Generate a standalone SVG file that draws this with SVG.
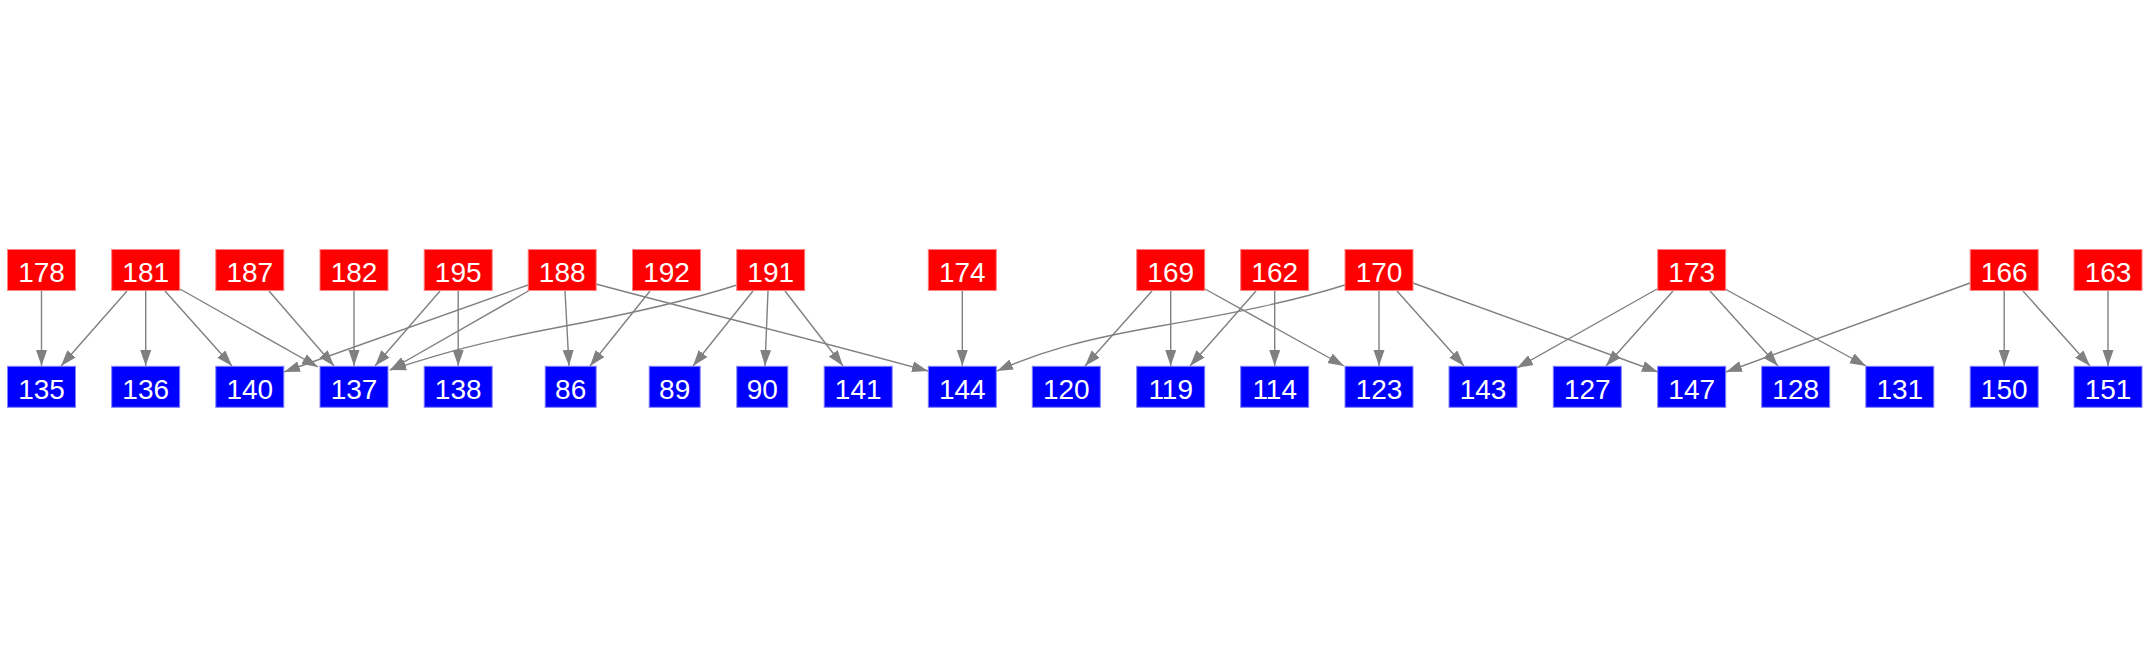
<svg xmlns="http://www.w3.org/2000/svg" width="2150" height="656" viewBox="0 0 2150 656">
<defs>
<style>
.r rect{fill:#ff0000;stroke:#ff8080;stroke-width:1}
.b rect{fill:#0000ff;stroke:#8080ff;stroke-width:1}
text{font-family:"Liberation Sans",Arial,sans-serif;font-size:28px;fill:#ffffff;text-anchor:middle}
#edges path{fill:none;stroke:#808080;stroke-width:1.4;marker-end:url(#ah)}
</style>
<marker id="ah" markerUnits="userSpaceOnUse" markerWidth="17" markerHeight="12" refX="16" refY="6" orient="auto" viewBox="0 0 17 12">
<path d="M0,0.5 L16,6 L0,11.5 z" fill="#808080"/>
</marker>
</defs>
<rect width="2150" height="656" fill="#ffffff"/>
<g id="edges">
<path d="M41.5,290.5 L41.5,366"/>
<path d="M127,291 L61,366"/>
<path d="M145.7,290.5 L145.7,366"/>
<path d="M165,291 L232,366"/>
<path d="M180,289 L318,367"/>
<path d="M269,291 L334,366"/>
<path d="M354,290.5 L354,366"/>
<path d="M440,291 L375,366"/>
<path d="M458.2,290.5 L458.2,366"/>
<path d="M528,285 L284,372"/>
<path d="M530,290 L390,370"/>
<path d="M565,291 L569,366"/>
<path d="M596,284 C700,312 800,336 928,371"/>
<path d="M650,291 L590,366"/>
<path d="M737,285 C690,300 640,312 560,327 C480,342 440,354 390,370"/>
<path d="M753,291 L693,366"/>
<path d="M768,291 L765,366"/>
<path d="M785,291 L843,366"/>
<path d="M962.3,290.5 L962.3,366"/>
<path d="M1152,291 L1085,366"/>
<path d="M1170.7,290.5 L1170.7,366"/>
<path d="M1205,289 L1344,366"/>
<path d="M1256,291 L1190,366"/>
<path d="M1274.7,290.5 L1274.7,366"/>
<path d="M1345,285 C1290,302 1240,312 1160,326 C1080,340 1040,352 997,371"/>
<path d="M1379,290.5 L1379,366"/>
<path d="M1397,291 L1464,366"/>
<path d="M1413,283 L1658,372"/>
<path d="M1657,289 L1517,368"/>
<path d="M1673,291 L1606,366"/>
<path d="M1710,291 L1778,366"/>
<path d="M1725,289 L1866,366"/>
<path d="M1970,283 L1726,372"/>
<path d="M2004.2,290.5 L2004.2,366"/>
<path d="M2023,291 L2090,366"/>
<path d="M2108,290.5 L2108,366"/>
</g>
<g id="n178" class="r"><rect x="7.5" y="249.5" width="68" height="41"/><text x="41.5" y="281.7">178</text></g>
<g id="n181" class="r"><rect x="111.7" y="249.5" width="68" height="41"/><text x="145.7" y="281.7">181</text></g>
<g id="n187" class="r"><rect x="215.8" y="249.5" width="68" height="41"/><text x="249.8" y="281.7">187</text></g>
<g id="n182" class="r"><rect x="320" y="249.5" width="68" height="41"/><text x="354" y="281.7">182</text></g>
<g id="n195" class="r"><rect x="424.2" y="249.5" width="68" height="41"/><text x="458.2" y="281.7">195</text></g>
<g id="n188" class="r"><rect x="528.2" y="249.5" width="68" height="41"/><text x="562.2" y="281.7">188</text></g>
<g id="n192" class="r"><rect x="632.5" y="249.5" width="68" height="41"/><text x="666.5" y="281.7">192</text></g>
<g id="n191" class="r"><rect x="736.7" y="249.5" width="68" height="41"/><text x="770.7" y="281.7">191</text></g>
<g id="n174" class="r"><rect x="928.3" y="249.5" width="68" height="41"/><text x="962.3" y="281.7">174</text></g>
<g id="n169" class="r"><rect x="1136.7" y="249.5" width="68" height="41"/><text x="1170.7" y="281.7">169</text></g>
<g id="n162" class="r"><rect x="1240.7" y="249.5" width="68" height="41"/><text x="1274.7" y="281.7">162</text></g>
<g id="n170" class="r"><rect x="1345" y="249.5" width="68" height="41"/><text x="1379" y="281.7">170</text></g>
<g id="n173" class="r"><rect x="1657.7" y="249.5" width="68" height="41"/><text x="1691.7" y="281.7">173</text></g>
<g id="n166" class="r"><rect x="1970.2" y="249.5" width="68" height="41"/><text x="2004.2" y="281.7">166</text></g>
<g id="n163" class="r"><rect x="2074" y="249.5" width="68" height="41"/><text x="2108" y="281.7">163</text></g>
<g id="n135" class="b"><rect x="7.5" y="366.3" width="68" height="41"/><text x="41.5" y="398.5">135</text></g>
<g id="n136" class="b"><rect x="111.7" y="366.3" width="68" height="41"/><text x="145.7" y="398.5">136</text></g>
<g id="n140" class="b"><rect x="215.8" y="366.3" width="68" height="41"/><text x="249.8" y="398.5">140</text></g>
<g id="n137" class="b"><rect x="320" y="366.3" width="68" height="41"/><text x="354" y="398.5">137</text></g>
<g id="n138" class="b"><rect x="424.2" y="366.3" width="68" height="41"/><text x="458.2" y="398.5">138</text></g>
<g id="n86" class="b"><rect x="545.2" y="366.3" width="51" height="41"/><text x="570.7" y="398.5">86</text></g>
<g id="n89" class="b"><rect x="649.2" y="366.3" width="51" height="41"/><text x="674.7" y="398.5">89</text></g>
<g id="n90" class="b"><rect x="736.8" y="366.3" width="51" height="41"/><text x="762.3" y="398.5">90</text></g>
<g id="n141" class="b"><rect x="824.2" y="366.3" width="68" height="41"/><text x="858.2" y="398.5">141</text></g>
<g id="n144" class="b"><rect x="928.3" y="366.3" width="68" height="41"/><text x="962.3" y="398.5">144</text></g>
<g id="n120" class="b"><rect x="1032.3" y="366.3" width="68" height="41"/><text x="1066.3" y="398.5">120</text></g>
<g id="n119" class="b"><rect x="1136.7" y="366.3" width="68" height="41"/><text x="1170.7" y="398.5">119</text></g>
<g id="n114" class="b"><rect x="1240.7" y="366.3" width="68" height="41"/><text x="1274.7" y="398.5">114</text></g>
<g id="n123" class="b"><rect x="1345" y="366.3" width="68" height="41"/><text x="1379" y="398.5">123</text></g>
<g id="n143" class="b"><rect x="1449" y="366.3" width="68" height="41"/><text x="1483" y="398.5">143</text></g>
<g id="n127" class="b"><rect x="1553.3" y="366.3" width="68" height="41"/><text x="1587.3" y="398.5">127</text></g>
<g id="n147" class="b"><rect x="1657.7" y="366.3" width="68" height="41"/><text x="1691.7" y="398.5">147</text></g>
<g id="n128" class="b"><rect x="1761.7" y="366.3" width="68" height="41"/><text x="1795.7" y="398.5">128</text></g>
<g id="n131" class="b"><rect x="1865.8" y="366.3" width="68" height="41"/><text x="1899.8" y="398.5">131</text></g>
<g id="n150" class="b"><rect x="1970.2" y="366.3" width="68" height="41"/><text x="2004.2" y="398.5">150</text></g>
<g id="n151" class="b"><rect x="2074" y="366.3" width="68" height="41"/><text x="2108" y="398.5">151</text></g>
</svg>
